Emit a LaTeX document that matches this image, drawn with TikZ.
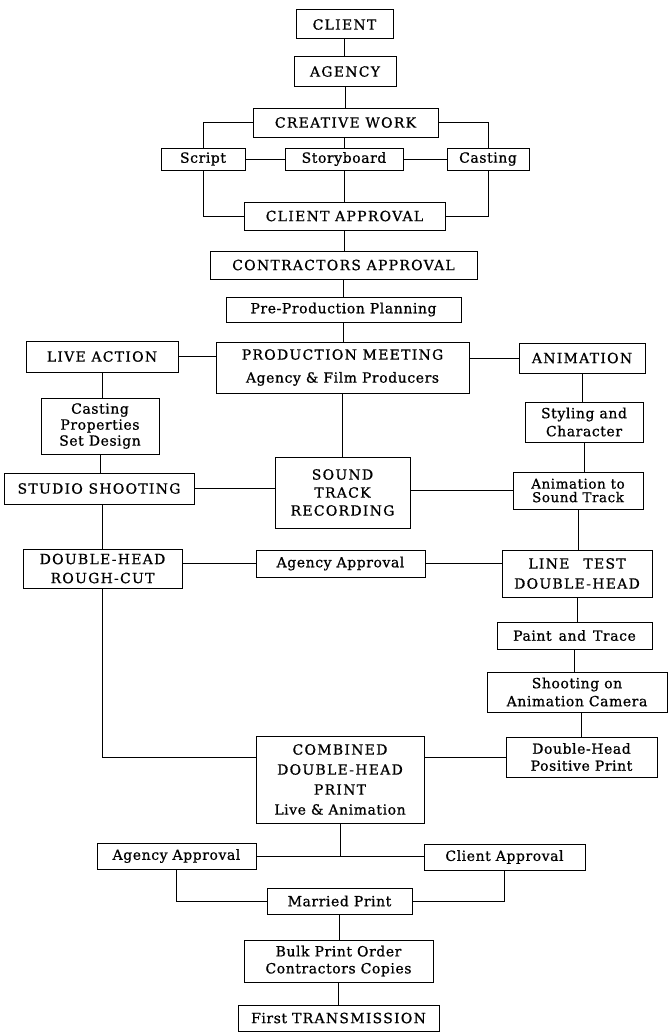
\documentclass[tikz,border=0pt]{standalone}
\usepackage{fontspec}
\setmainfont{DejaVu Serif}[LetterSpace=4,FakeBold=0.8]
\newfontfamily\capsf{DejaVu Serif}[LetterSpace=9,FakeBold=0.8]
\tikzset{
  box/.style={draw, line width=1pt, inner sep=0pt, align=center,
    font=\fontsize{14}{18}\selectfont},
  capsbox/.style={font=\capsf\fontsize{14}{18}\selectfont},
  link/.style={line width=1pt},
}
% #2 name, #3 x1, #4 y1, #5 x2, #6 y2, #7 text
\newcommand\flowbox[7][]{%
  \node[box,#1,minimum width={(#5-#3)*1pt},minimum height={(#6-#4)*1pt}]
    (#2) at ({(#3+#5)/2},{(#4+#6)/2}) {#7};}
\begin{document}
\begin{tikzpicture}[x=1pt,y=-1pt]
\useasboundingbox (0,0) rectangle (670,1033);
\flowbox[capsbox]{client}{296}{10}{393}{39}{CLIENT}
\flowbox[capsbox]{agency}{294}{57}{396}{86}{AGENCY}
\flowbox[capsbox]{cw}{253}{108}{438}{137}{CREATIVE WORK}
\flowbox{script}{161}{148}{245}{170}{Script}
\flowbox{story}{285}{148}{403}{170}{Storyboard}
\flowbox{cast}{447}{148}{529}{170}{Casting}
\flowbox[capsbox]{ca}{244}{202}{445}{230}{CLIENT APPROVAL}
\flowbox[capsbox]{contr}{210}{251}{477}{279}{CONTRACTORS APPROVAL}
\flowbox{pre}{226}{297}{461}{322}{Pre-Production Planning}
\flowbox[capsbox]{live}{26}{341}{178}{372}{LIVE ACTION}
\flowbox[font=\fontsize{14}{23}\selectfont]{pm}{216}{342}{469}{393}{{\capsf PRODUCTION MEETING}\\Agency \& Film Producers}
\flowbox[capsbox]{anim}{519}{343}{645}{373}{ANIMATION}
\flowbox[font=\fontsize{14}{16}\selectfont]{cpsd}{41}{398}{159}{454}{Casting\\Properties\\Set Design}
\flowbox{styl}{525}{402}{643}{442}{Styling and\\Character}
\flowbox[capsbox]{sound}{275}{457}{410}{528}{SOUND\\TRACK\\RECORDING}
\flowbox[capsbox]{studio}{4}{473}{194}{504}{STUDIO SHOOTING}
\flowbox[font=\fontsize{13.5}{13.5}\selectfont]{ats}{513}{472}{643}{509}{Animation to\\Sound Track}
\flowbox[font=\capsf\fontsize{14}{19}\selectfont]{rough}{23}{549}{182}{588}{DOUBLE-HEAD\\ROUGH-CUT}
\flowbox{aa1}{256}{550}{425}{577}{Agency Approval}
\flowbox[font=\capsf\fontsize{14}{20}\selectfont]{line}{502}{550}{652}{597}{LINE\quad TEST\\DOUBLE-HEAD}
\flowbox{paint}{497}{622}{652}{649}{Paint\enspace and\enspace Trace}
\flowbox{shoot}{487}{672}{667}{712}{Shooting on\\Animation Camera}
\flowbox[font=\fontsize{14}{17}\selectfont]{dhpp}{506}{737}{657}{777}{Double-Head\\Positive Print}
\flowbox[font=\fontsize{14}{20}\selectfont]{comb}{256}{736}{424}{823}{{\capsf COMBINED}\\{\capsf DOUBLE-HEAD}\\{\capsf PRINT}\\Live \& Animation}
\flowbox{aa2}{97}{843}{256}{869}{Agency Approval}
\flowbox{ca2}{424}{844}{585}{870}{Client Approval}
\flowbox{married}{267}{888}{412}{914}{Married Print}
\flowbox[font=\fontsize{14}{17}\selectfont]{bulk}{244}{940}{433}{982}{Bulk Print Order\\Contractors Copies}
\flowbox{first}{238}{1005}{439}{1031}{First {\capsf TRANSMISSION}}
% connectors
\begin{scope}[link]
\draw (client.south) -- (client.south |- agency.north);
\draw (agency.south) -- (agency.south |- cw.north);
\draw (cw.west) -| (script.north);
\draw (cw.east) -| (cast.north);
\draw (script.east) -- (story.west);
\draw (story.east) -- (cast.west);
\draw (story.north) -- (story.north |- cw.south);
\draw (story.south) -- (story.south |- ca.north);
\draw (script.south) |- (ca.west);
\draw (cast.south) |- (ca.east);
\draw (ca.south) -- (ca.south |- contr.north);
\draw (contr.south) -- (contr.south |- pre.north);
\draw (pre.south) -- (pre.south |- pm.north);
\draw (live.east) -- (live.east -| pm.west);
\draw (anim.west) -- (anim.west -| pm.east);
\draw (live.south) -- (live.south |- cpsd.north);
\draw (anim.south) -- (anim.south |- styl.north);
\draw (pm.south) -- (pm.south |- sound.north);
\draw (cpsd.south) -- (cpsd.south |- studio.north);
\draw (studio.east) -- (studio.east -| sound.west);
\draw (ats.west) -- (ats.west -| sound.east);
\draw (styl.south) -- (styl.south |- ats.north);
\draw (live.south |- studio.south) -- (live.south |- rough.north);
\draw (aa1.west) -- (aa1.west -| rough.east);
\draw (aa1.east) -- (aa1.east -| line.west);
\draw (ats.south) -- (ats.south |- line.north);
\draw (line.south) -- (line.south |- paint.north);
\draw (paint.south) -- (paint.south |- shoot.north);
\draw (dhpp.north) -- (dhpp.north |- shoot.south);
\draw (live.south |- rough.south) |- (comb.west |- dhpp.west);
\draw (dhpp.west) -- (dhpp.west -| comb.east);
\draw (comb.south) -- (comb.south |- aa2.east);
\draw (aa2.east) -- (aa2.east -| ca2.west);
\draw (aa2.south) |- (married.west);
\draw (ca2.south) |- (married.east);
\draw (married.south) -- (married.south |- bulk.north);
\draw (bulk.south) -- (bulk.south |- first.north);
\end{scope}
\end{tikzpicture}
\end{document}
